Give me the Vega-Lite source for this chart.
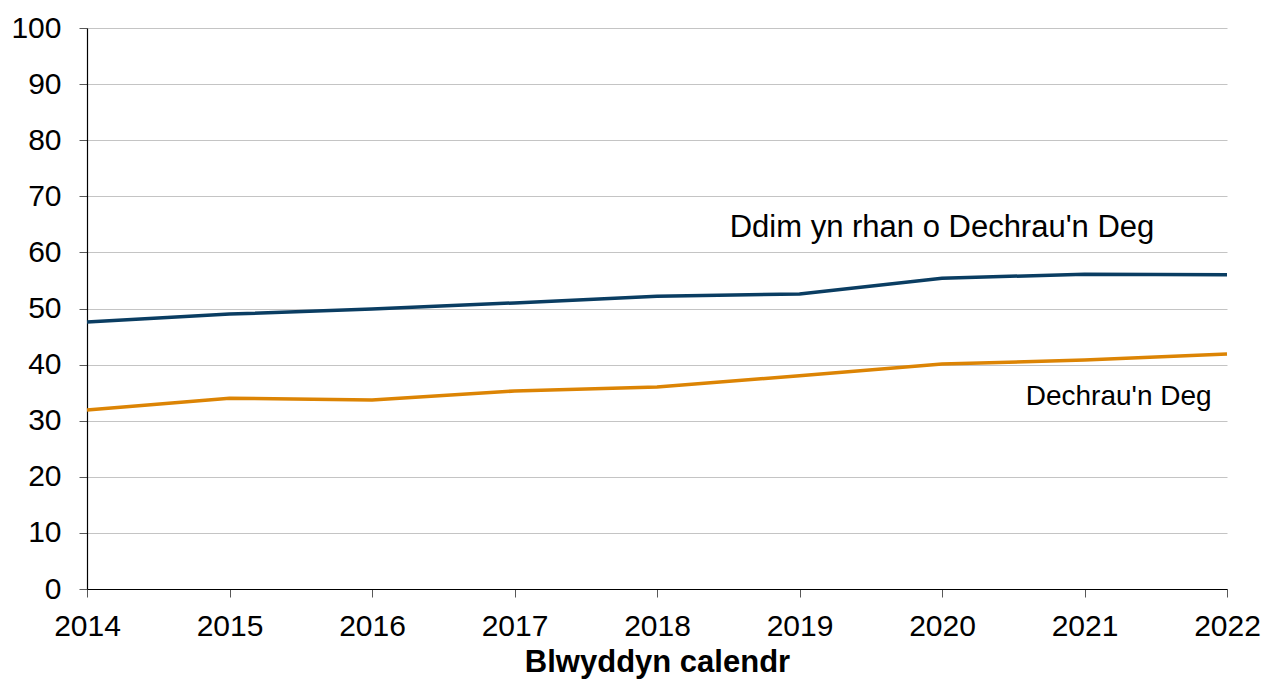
{
  "$schema": "https://vega.github.io/schema/vega-lite/v6.json",
  "width": 1140,
  "height": 561,
  "autosize": {"type": "none"},
  "padding": {"left": 87, "top": 28, "right": 36, "bottom": 90},
  "background": "white",
  "config": {
    "view": {"stroke": null},
    "font": "Liberation Sans"
  },
  "datasets": {
    "lines": [
      {"year": 2014, "value": 47.6, "group": "Ddim yn rhan o Dechrau'n Deg"},
      {"year": 2015, "value": 49.0, "group": "Ddim yn rhan o Dechrau'n Deg"},
      {"year": 2016, "value": 49.9, "group": "Ddim yn rhan o Dechrau'n Deg"},
      {"year": 2017, "value": 51.0, "group": "Ddim yn rhan o Dechrau'n Deg"},
      {"year": 2018, "value": 52.2, "group": "Ddim yn rhan o Dechrau'n Deg"},
      {"year": 2019, "value": 52.6, "group": "Ddim yn rhan o Dechrau'n Deg"},
      {"year": 2020, "value": 55.4, "group": "Ddim yn rhan o Dechrau'n Deg"},
      {"year": 2021, "value": 56.1, "group": "Ddim yn rhan o Dechrau'n Deg"},
      {"year": 2022, "value": 56.0, "group": "Ddim yn rhan o Dechrau'n Deg"},
      {"year": 2014, "value": 31.9, "group": "Dechrau'n Deg"},
      {"year": 2015, "value": 34.0, "group": "Dechrau'n Deg"},
      {"year": 2016, "value": 33.7, "group": "Dechrau'n Deg"},
      {"year": 2017, "value": 35.3, "group": "Dechrau'n Deg"},
      {"year": 2018, "value": 36.0, "group": "Dechrau'n Deg"},
      {"year": 2019, "value": 38.0, "group": "Dechrau'n Deg"},
      {"year": 2020, "value": 40.1, "group": "Dechrau'n Deg"},
      {"year": 2021, "value": 40.8, "group": "Dechrau'n Deg"},
      {"year": 2022, "value": 41.9, "group": "Dechrau'n Deg"}
    ],
    "labels": [
      {"year": 2020.0, "value": 64.3, "label": "Ddim yn rhan o Dechrau'n Deg", "size": 31},
      {"year": 2021.24, "value": 34.2, "label": "Dechrau'n Deg", "size": 28}
    ]
  },
  "layer": [
    {
      "data": {"name": "lines"},
      "mark": {"type": "line", "strokeWidth": 3.5, "interpolate": "linear"},
      "encoding": {
        "x": {
          "field": "year", "type": "quantitative",
          "scale": {"domain": [2014, 2022], "nice": false, "zero": false},
          "axis": {
            "title": "Blwyddyn calendr",
            "titleFont": "Liberation Sans",
            "titleFontSize": 31,
            "titleFontWeight": "bold",
            "titleColor": "black",
            "titlePadding": 6,
            "format": "d",
            "values": [2014, 2015, 2016, 2017, 2018, 2019, 2020, 2021, 2022],
            "labelFontSize": 30,
            "labelColor": "black",
            "labelPadding": 14,
            "labelFlush": false,
            "labelOverlap": false,
            "tickSize": 8,
            "tickColor": "#595959",
            "domainColor": "black",
            "domainWidth": 1.2,
            "grid": false
          }
        },
        "y": {
          "field": "value", "type": "quantitative",
          "scale": {"domain": [0, 100], "nice": false},
          "axis": {
            "title": null,
            "values": [0, 10, 20, 30, 40, 50, 60, 70, 80, 90, 100],
            "labelFontSize": 30,
            "labelColor": "black",
            "labelPadding": 18,
            "tickSize": 8,
            "tickColor": "#595959",
            "domainColor": "black",
            "domainWidth": 1.2,
            "grid": true,
            "gridColor": "#c4c4c4",
            "gridWidth": 1
          }
        },
        "color": {
          "field": "group", "type": "nominal",
          "scale": {
            "domain": ["Ddim yn rhan o Dechrau'n Deg", "Dechrau'n Deg"],
            "range": ["#0a3d62", "#dc8404"]
          },
          "legend": null
        }
      }
    },
    {
      "data": {"name": "labels"},
      "mark": {"type": "text", "align": "center", "baseline": "middle", "color": "black", "font": "Liberation Sans"},
      "encoding": {
        "x": {"field": "year", "type": "quantitative"},
        "y": {"field": "value", "type": "quantitative"},
        "text": {"field": "label"},
        "size": {"field": "size", "type": "quantitative", "scale": null}
      }
    }
  ]
}
